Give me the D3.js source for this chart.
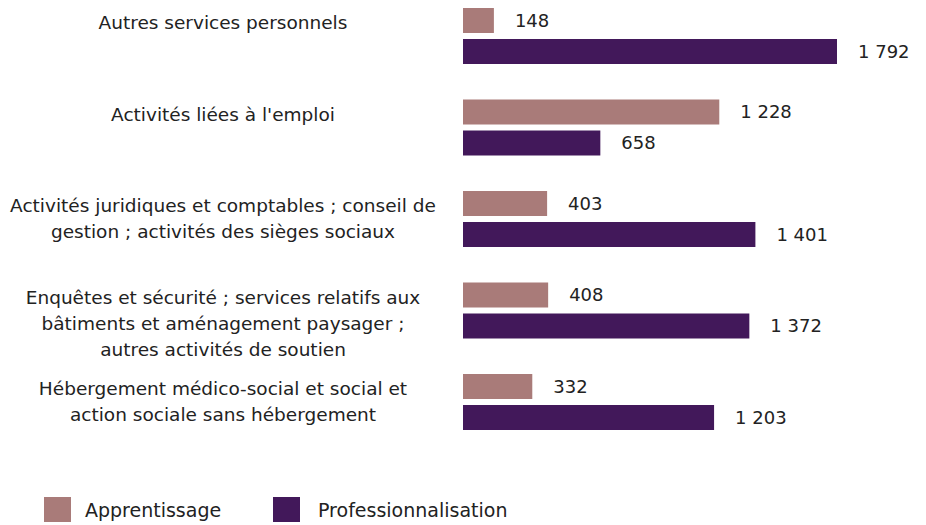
<!DOCTYPE html>
<html>
<head>
<meta charset="utf-8">
<script src="https://cdn.jsdelivr.net/npm/d3@7"></script>
<style>
  body { margin: 0; background: #fff; }
  svg text { font-family: 'DejaVu Sans', sans-serif; fill: #222; }
</style>
</head>
<body>
<svg id="chart" width="926" height="525"></svg>
<script>
var categories = [
  ['Autres services personnels'],
  ["Activités liées à l'emploi"],
  ['Activités juridiques et comptables ; conseil de', 'gestion ; activités des sièges sociaux'],
  ['Enquêtes et sécurité ; services relatifs aux', 'bâtiments et aménagement paysager ;', 'autres activités de soutien'],
  ['Hébergement médico-social et social et', 'action sociale sans hébergement']
];
var seriesNames = ['Apprentissage', 'Professionnalisation'];
var apprentissage = [148, 1228, 403, 408, 332];
var professionnalisation = [1792, 658, 1401, 1372, 1203];
var colors = ['#a97b79', '#42185a'];

var WIDTH = 926, HEIGHT = 525;
var svg = d3.select('#chart');

var fmt = d3.formatLocale({ decimal: ',', thousands: '\u00a0', grouping: [3], currency: ['', ' €'] }).format(',d');

var rows = categories.map(function(c, i) {
  return { label: c, values: [apprentissage[i], professionnalisation[i]] };
});

var x = d3.scaleLinear()
  .domain([0, 1792])
  .range([463, 837]);

var y = d3.scaleBand()
  .domain(d3.range(rows.length))
  .range([-9.75, 447.75])
  .paddingInner(0.388)
  .paddingOuter(0.194);

var ySub = d3.scaleBand()
  .domain(d3.range(seriesNames.length))
  .range([0, y.bandwidth()])
  .paddingInner(0.1935);

var groups = svg.append('g')
  .selectAll('g')
  .data(rows)
  .join('g')
  .attr('transform', function(d, i) { return 'translate(0,' + y(i) + ')'; });

groups.selectAll('rect')
  .data(function(d) { return d.values; })
  .join('rect')
  .attr('x', x(0))
  .attr('y', function(d, j) { return ySub(j); })
  .attr('width', function(d) { return x(d) - x(0); })
  .attr('height', ySub.bandwidth())
  .attr('fill', function(d, j) { return colors[j]; });

groups.selectAll('text.val')
  .data(function(d) { return d.values; })
  .join('text')
  .attr('class', 'val')
  .attr('x', function(d) { return x(d) + 21; })
  .attr('y', function(d, j) { return ySub(j) + ySub.bandwidth() / 2; })
  .attr('dy', '0.35em')
  .style('font-size', '18px')
  .text(function(d) { return fmt(d); });

// category labels, centred, first line near the top of the group
groups.append('text')
  .attr('class', 'cat')
  .attr('text-anchor', 'middle')
  .style('font-size', '18.5px')
  .selectAll('tspan')
  .data(function(d) { return d.label; })
  .join('tspan')
  .attr('x', 223)
  .attr('y', function(d, k) { return 15 + k * 26; })
  .attr('dy', '0.35em')
  .text(function(d) { return d; });

// legend
var legend = svg.append('g')
  .selectAll('g')
  .data(seriesNames)
  .join('g')
  .attr('transform', function(d, i) { return 'translate(' + [44, 273][i] + ',497)'; });

legend.append('rect')
  .attr('width', 27)
  .attr('height', 25)
  .attr('fill', function(d, i) { return colors[i]; });

legend.append('text')
  .attr('x', function(d, i) { return [41, 45][i]; })
  .attr('y', 13)
  .attr('dy', '0.35em')
  .style('font-size', '19px')
  .text(function(d) { return d; });
</script>
</body>
</html>
